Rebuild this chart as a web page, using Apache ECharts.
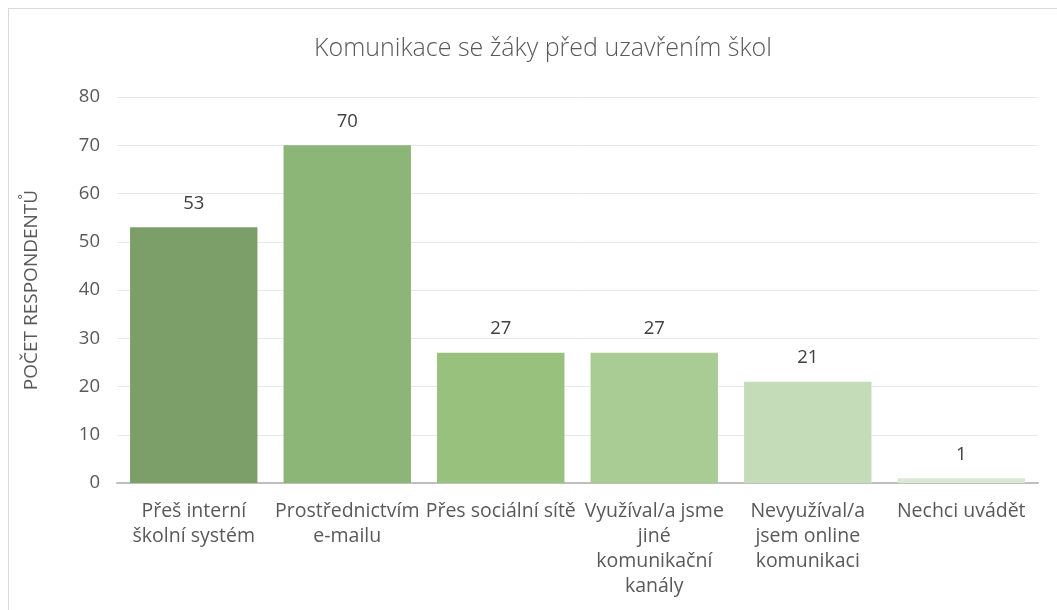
<!DOCTYPE html>
<html><head><meta charset="utf-8">
<script src="https://cdn.jsdelivr.net/npm/echarts@6/dist/echarts.min.js"></script>
<style>html,body{margin:0;padding:0;background:#fff}
#c{position:absolute;left:0;top:0;width:1057px;height:610px}
#b{position:absolute;left:8px;top:8px;width:1060px;height:620px;border:1px solid #d9d9d9;box-sizing:border-box}</style>
</head><body><div id="b"></div><div id="c"></div>
<script>
const title = 'Komunikace se žáky před uzavřením škol';
const yAxisName = 'POČET RESPONDENTŮ';
const categories = ['Přeš interní\nškolní systém', 'Prostřednictvím\ne-mailu', 'Přes sociální sítě', 'Využíval/a jsme\njiné\nkomunikační\nkanály', 'Nevyužíval/a\njsem online\nkomunikaci', 'Nechci uvádět'];
const values = [53, 70, 27, 27, 21, 1];
const barColors = ['#7c9f69', '#8cb678', '#97c17d', '#a9cc95', '#c5dcb9', '#dbe9d2'];

const chart = echarts.init(document.getElementById('c'));
chart.setOption({
  animation: false,
  title: {text: title, left: 538, top: 31, textAlign: 'center',
    textStyle: {fontFamily: 'Open Sans', fontWeight: 300, fontSize: 25, color: '#595959'}},
  grid: {left: 117, right: 19, top: 97, bottom: 127},
  xAxis: {type: 'category', data: categories,
    axisLine: {lineStyle: {color: '#bfbfbf', width: 2}},
    axisTick: {show: false},
    axisLabel: {interval: 0, fontFamily: 'Open Sans', fontSize: 19.5, color: '#595959', lineHeight: 25, margin: 16}},
  yAxis: {type: 'value', min: 0, max: 80, interval: 10,
    name: yAxisName, nameLocation: 'middle', nameGap: 76, nameRotate: 90,
    nameTextStyle: {fontFamily: 'Open Sans', fontSize: 19, color: '#595959'},
    axisLine: {show: false}, axisTick: {show: false},
    axisLabel: {fontFamily: 'Open Sans', fontSize: 18.5, color: '#595959', margin: 17},
    splitLine: {lineStyle: {color: '#e8e8e8', width: 1}}},
  series: [{type: 'bar', data: values.map((v, i) => ({value: v, itemStyle: {color: barColors[i]}})),
    barCategoryGap: '17%',
    label: {show: true, position: 'top', distance: 14, fontFamily: 'Open Sans', fontSize: 18.5, color: '#404040'}}]
});
</script></body></html>
